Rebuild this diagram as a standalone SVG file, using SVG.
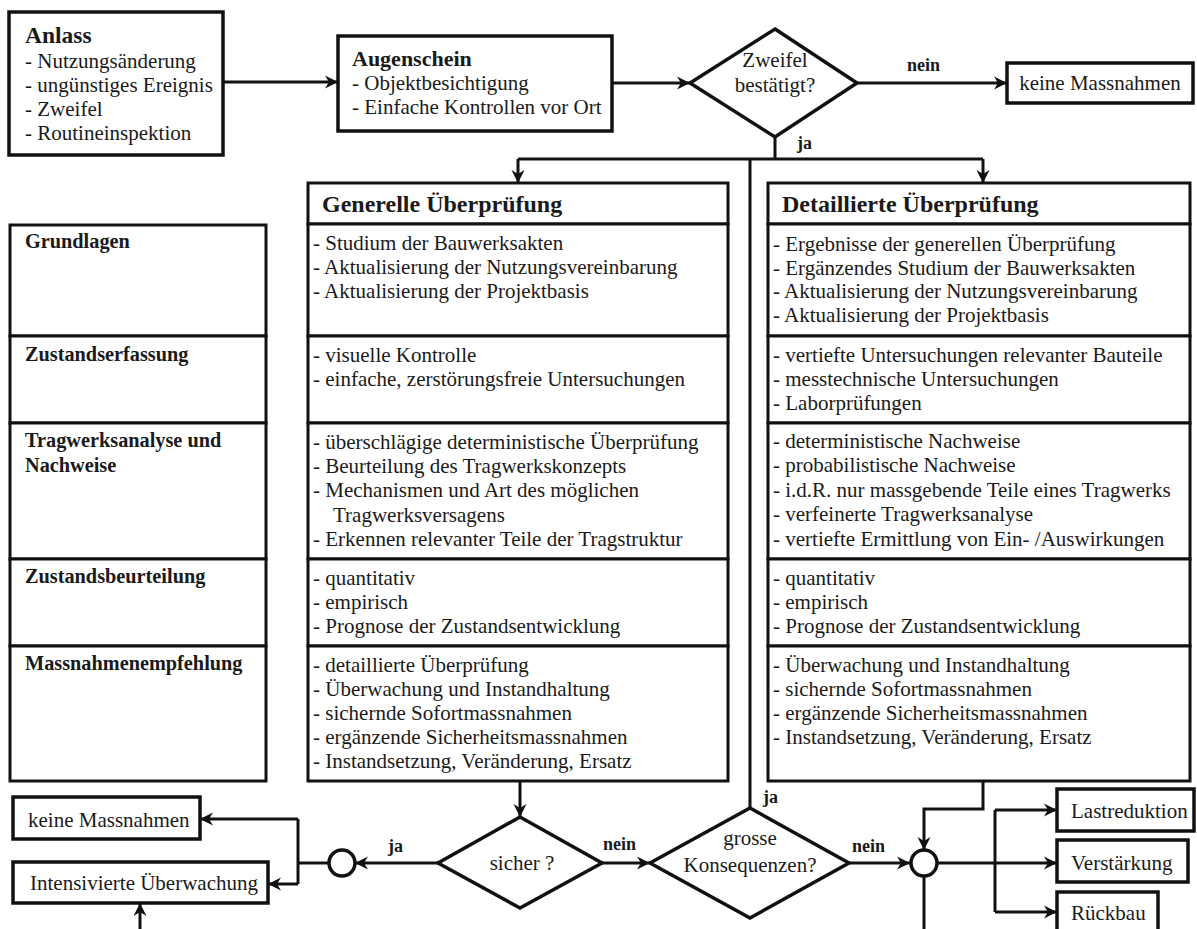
<svg xmlns="http://www.w3.org/2000/svg" width="1197" height="929" viewBox="0 0 1197 929">
<style>
  .box { fill: #fff; stroke: #111; stroke-width: 3.5; }
  .cell { fill: #fff; stroke: #111; stroke-width: 3; }
  .ln { fill: none; stroke: #111; stroke-width: 3; }
  .arr { fill: none; stroke: #111; stroke-width: 3; marker-end: url(#ah); }
  text { font-family: "Liberation Serif", "Times New Roman", serif; fill: #1a1a1a; }
  .t { font-size: 21px; }
  .b { font-size: 22px; font-weight: bold; }
  .h { font-size: 24px; font-weight: bold; }
  .lab { font-size: 20.3px; font-weight: bold; }
  .yn { font-size: 18px; font-weight: bold; }
  .c { text-anchor: middle; }
</style>
<defs>
  <marker id="ah" markerUnits="userSpaceOnUse" markerWidth="16" markerHeight="16" refX="14" refY="7" orient="auto">
    <path d="M1,0.5 L14,7 L1,13.5 L5,7 Z" fill="#111"/>
  </marker>
</defs>
<rect width="1197" height="929" fill="#fff"/>

<g id="connectors">
  <line class="arr" x1="223" y1="82" x2="338" y2="82"/>
  <line class="arr" x1="612" y1="83" x2="690" y2="83"/>
  <line class="arr" x1="857" y1="83" x2="1007" y2="83"/>
  <polyline class="ln" points="775,137 775,159"/>
  <line class="ln" x1="518" y1="159" x2="983" y2="159"/>
  <line class="arr" x1="518" y1="159" x2="518" y2="183"/>
  <line class="arr" x1="983" y1="159" x2="983" y2="183"/>
  <line class="ln" x1="750" y1="159" x2="750" y2="808"/>
  <line class="arr" x1="520" y1="781" x2="520" y2="817"/>
  <line class="arr" x1="438" y1="863" x2="355" y2="863"/>
  <line class="ln" x1="329" y1="863" x2="298" y2="863"/>
  <line class="ln" x1="298" y1="819" x2="298" y2="884"/>
  <line class="arr" x1="298" y1="819" x2="200" y2="819"/>
  <line class="arr" x1="298" y1="884" x2="268" y2="884"/>
  <line class="arr" x1="140" y1="929" x2="140" y2="903"/>
  <line class="arr" x1="602" y1="863" x2="650" y2="863"/>
  <line class="arr" x1="849" y1="863" x2="910" y2="863"/>
  <polyline class="arr" points="983,781 983,809 924,809 924,850"/>
  <line class="ln" x1="924" y1="876" x2="924" y2="929"/>
  <line class="ln" x1="937" y1="863" x2="995" y2="863"/>
  <line class="ln" x1="995" y1="810" x2="995" y2="912"/>
  <line class="arr" x1="995" y1="810" x2="1057" y2="810"/>
  <line class="arr" x1="995" y1="863" x2="1057" y2="863"/>
  <line class="arr" x1="995" y1="912" x2="1057" y2="912"/>
  <text class="yn" x="797" y="149">ja</text>
  <text class="yn" x="907" y="71">nein</text>
  <text class="yn" x="763" y="803">ja</text>
  <text class="yn" x="603" y="850">nein</text>
  <text class="yn" x="388" y="852">ja</text>
  <text class="yn" x="852" y="852">nein</text>
</g>

<g id="anlass">
  <rect class="box" x="9" y="12" width="214" height="143"/>
  <text class="b" x="25" y="43" style="font-size:23.5px">Anlass</text>
  <text class="t" x="25" y="68">- Nutzungsänderung</text>
  <text class="t" x="25" y="92">- ungünstiges Ereignis</text>
  <text class="t" x="25" y="116">- Zweifel</text>
  <text class="t" x="25" y="140">- Routineinspektion</text>
</g>

<g id="augenschein">
  <rect class="box" x="338" y="36" width="274" height="95"/>
  <text class="b" x="352" y="66">Augenschein</text>
  <text class="t" x="352" y="90">- Objektbesichtigung</text>
  <text class="t" x="352" y="114">- Einfache Kontrollen vor Ort</text>
</g>

<g id="zweifel">
  <polygon class="box" points="775,29 857,83 775,137 690,83"/>
  <text class="t c" x="775" y="67">Zweifel</text>
  <text class="t c" x="775" y="92">bestätigt?</text>
</g>

<g id="keine-top">
  <rect class="box" x="1007" y="63" width="186" height="40"/>
  <text class="t c" x="1100" y="90">keine Massnahmen</text>
</g>

<g id="kriterien">
  <rect class="cell" x="10" y="225" width="256" height="111"/>
  <rect class="cell" x="10" y="336" width="256" height="87"/>
  <rect class="cell" x="10" y="423" width="256" height="136"/>
  <rect class="cell" x="10" y="559" width="256" height="87"/>
  <rect class="cell" x="10" y="646" width="256" height="135"/>
  <text class="lab" x="25" y="248">Grundlagen</text>
  <text class="lab" x="25" y="361">Zustandserfassung</text>
  <text class="lab" x="25" y="447">Tragwerksanalyse und</text>
  <text class="lab" x="25" y="472">Nachweise</text>
  <text class="lab" x="25" y="583">Zustandsbeurteilung</text>
  <text class="lab" x="25" y="670">Massnahmenempfehlung</text>
</g>

<g id="generelle">
  <rect class="cell" x="308" y="183" width="420" height="41"/>
  <rect class="cell" x="308" y="224" width="420" height="112"/>
  <rect class="cell" x="308" y="336" width="420" height="87"/>
  <rect class="cell" x="308" y="423" width="420" height="136"/>
  <rect class="cell" x="308" y="559" width="420" height="87"/>
  <rect class="cell" x="308" y="646" width="420" height="135"/>
  <text class="h" x="322" y="212">Generelle Überprüfung</text>
  <text class="t" x="313" y="250">- Studium der Bauwerksakten</text>
  <text class="t" x="313" y="274">- Aktualisierung der Nutzungsvereinbarung</text>
  <text class="t" x="313" y="298">- Aktualisierung der Projektbasis</text>
  <text class="t" x="313" y="362">- visuelle Kontrolle</text>
  <text class="t" x="313" y="386">- einfache, zerstörungsfreie Untersuchungen</text>
  <text class="t" x="313" y="449">- überschlägige deterministische Überprüfung</text>
  <text class="t" x="313" y="473">- Beurteilung des Tragwerkskonzepts</text>
  <text class="t" x="313" y="497">- Mechanismen und Art des möglichen</text>
  <text class="t" x="333" y="522">Tragwerksversagens</text>
  <text class="t" x="313" y="546">- Erkennen relevanter Teile der Tragstruktur</text>
  <text class="t" x="313" y="585">- quantitativ</text>
  <text class="t" x="313" y="609">- empirisch</text>
  <text class="t" x="313" y="633">- Prognose der Zustandsentwicklung</text>
  <text class="t" x="313" y="672">- detaillierte Überprüfung</text>
  <text class="t" x="313" y="696">- Überwachung und Instandhaltung</text>
  <text class="t" x="313" y="720">- sichernde Sofortmassnahmen</text>
  <text class="t" x="313" y="744">- ergänzende Sicherheitsmassnahmen</text>
  <text class="t" x="313" y="768">- Instandsetzung, Veränderung, Ersatz</text>
</g>

<g id="detaillierte">
  <rect class="cell" x="768" y="183" width="422" height="41"/>
  <rect class="cell" x="768" y="224" width="422" height="112"/>
  <rect class="cell" x="768" y="336" width="422" height="87"/>
  <rect class="cell" x="768" y="423" width="422" height="136"/>
  <rect class="cell" x="768" y="559" width="422" height="87"/>
  <rect class="cell" x="768" y="646" width="422" height="135"/>
  <text class="h" x="782" y="212">Detaillierte Überprüfung</text>
  <text class="t" x="773" y="251">- Ergebnisse der generellen Überprüfung</text>
  <text class="t" x="773" y="274.5">- Ergänzendes Studium der Bauwerksakten</text>
  <text class="t" x="773" y="298">- Aktualisierung der Nutzungsvereinbarung</text>
  <text class="t" x="773" y="321.5">- Aktualisierung der Projektbasis</text>
  <text class="t" x="773" y="362">- vertiefte Untersuchungen relevanter Bauteile</text>
  <text class="t" x="773" y="386">- messtechnische Untersuchungen</text>
  <text class="t" x="773" y="410">- Laborprüfungen</text>
  <text class="t" x="773" y="448">- deterministische Nachweise</text>
  <text class="t" x="773" y="472">- probabilistische Nachweise</text>
  <text class="t" x="773" y="497">- i.d.R. nur massgebende Teile eines Tragwerks</text>
  <text class="t" x="773" y="521">- verfeinerte Tragwerksanalyse</text>
  <text class="t" x="773" y="546">- vertiefte Ermittlung von Ein- /Auswirkungen</text>
  <text class="t" x="773" y="585">- quantitativ</text>
  <text class="t" x="773" y="609">- empirisch</text>
  <text class="t" x="773" y="633">- Prognose der Zustandsentwicklung</text>
  <text class="t" x="773" y="672">- Überwachung und Instandhaltung</text>
  <text class="t" x="773" y="696">- sichernde Sofortmassnahmen</text>
  <text class="t" x="773" y="720">- ergänzende Sicherheitsmassnahmen</text>
  <text class="t" x="773" y="744">- Instandsetzung, Veränderung, Ersatz</text>
</g>

<g id="sicher">
  <polygon class="box" points="520,817 602,863 520,908 438,863"/>
  <text class="t c" x="522" y="870">sicher ?</text>
</g>

<g id="grosse">
  <polygon class="box" points="750,808 849,863 750,918 650,863"/>
  <text class="t c" x="750" y="845">grosse</text>
  <text class="t c" x="750" y="872">Konsequenzen?</text>
</g>

<g id="kreis-links">
  <circle class="box" cx="342" cy="863" r="13"/>
</g>

<g id="kreis-rechts">
  <circle class="box" cx="924" cy="863" r="13"/>
</g>

<g id="keine-unten">
  <rect class="box" x="13" y="797" width="187" height="42"/>
  <text class="t" x="28" y="827">keine Massnahmen</text>
</g>

<g id="intensivierte">
  <rect class="box" x="13" y="862" width="255" height="41"/>
  <text class="t" x="30" y="890">Intensivierte Überwachung</text>
</g>

<g id="lastreduktion">
  <rect class="box" x="1057" y="789" width="137" height="42"/>
  <text class="t" x="1071" y="818">Lastreduktion</text>
</g>

<g id="verstaerkung">
  <rect class="box" x="1057" y="840" width="131" height="42"/>
  <text class="t" x="1071" y="870">Verstärkung</text>
</g>

<g id="rueckbau">
  <rect class="box" x="1057" y="892" width="101" height="44"/>
  <text class="t" x="1071" y="920">Rückbau</text>
</g>
</svg>
